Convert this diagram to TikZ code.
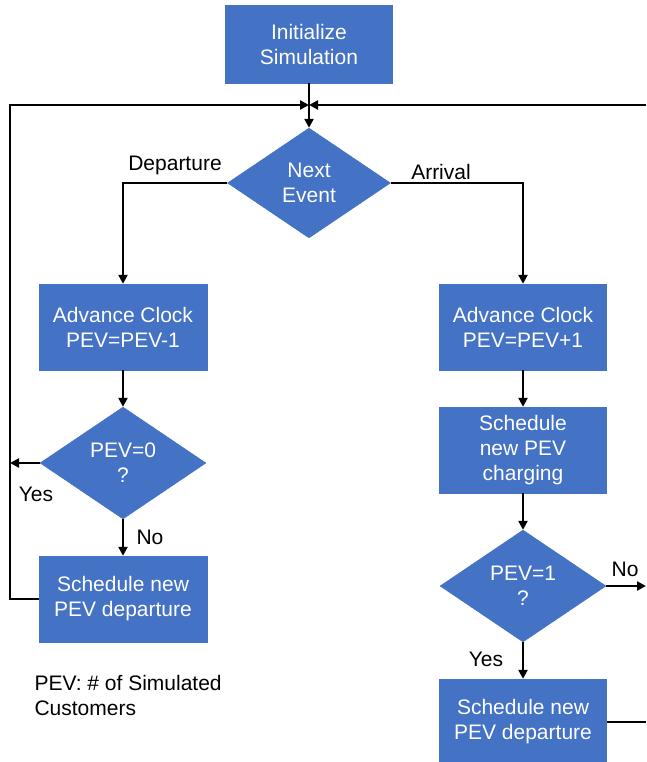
\documentclass[tikz,border=0pt]{standalone}
\usepackage{fontspec}
\setmainfont{Liberation Sans}
\usetikzlibrary{shapes.geometric,arrows.meta}
\definecolor{officeblue}{HTML}{4472C4}
\begin{document}
\begin{tikzpicture}[x=1pt,y=-1pt,
  every node/.style={font=\fontsize{21}{25}\selectfont},
  procbox/.style={rectangle,fill=officeblue,draw=officeblue,text=white,align=center,inner sep=0pt,minimum width=167pt,minimum height=86pt},
  decbox/.style={diamond,fill=officeblue,draw=officeblue,text=white,align=center,inner sep=0pt,minimum width=166pt,minimum height=112pt},
  conn/.style={line width=2.5pt,line join=miter},
  arr/.style={conn,-{Triangle[length=9pt,width=9pt]}},
  lbl/.style={text=black}]
\useasboundingbox (0,0) rectangle (646,762);
\node[procbox,minimum height=78pt] (init) at (309,44) {Initialize\\Simulation};
\node[decbox,minimum width=163pt,minimum height=110pt] (next) at (309,183) {Next\\Event};
\node[procbox,minimum width=168pt] (advL) at (123,327) {Advance Clock\\PEV=PEV-1};
\node[decbox] (dec0) at (123,463) {PEV=0\\?};
\node[procbox,minimum width=168pt] (schL) at (123,599) {Schedule new\\PEV departure};
\node[procbox] (advR) at (523,327) {Advance Clock\\PEV=PEV+1};
\node[procbox] (chg) at (523,450) {Schedule\\new PEV\\charging};
\node[decbox] (dec1) at (523,586) {PEV=1\\?};
\node[procbox] (schR) at (523,722) {Schedule new\\PEV departure};

\coordinate (J) at (309,105);
\coordinate (LL) at (10,105);
\coordinate (RR) at (646,105);
\coordinate (YL) at (10,463);
\coordinate (NR) at (646,586);
\coordinate (ER) at (646,722);

\draw[arr] (init.south) -- (next.north);
\draw[arr] (schL.west) -| (LL) -- (J);
\draw[arr] (RR) -- (J);
\draw[arr] (next.west) -| (advL.north);
\draw[arr] (next.east) -| (advR.north);
\draw[arr] (advL.south) -- (dec0.north);
\draw[arr] (dec0.west) -- (YL);
\draw[arr] (dec0.south) -- (schL.north);
\draw[arr] (advR.south) -- (chg.north);
\draw[arr] (chg.south) -- (dec1.north);
\draw[arr] (dec1.east) -- (NR);
\draw[arr] (dec1.south) -- (schR.north);
\draw[conn] (schR.east) -- (ER);

\node[lbl] (ldep) at (175,165) {Departure};
\node[lbl] (larr) at (441,172) {Arrival};
\node[lbl] (lyes0) at (36,494) {Yes};
\node[lbl] (lno0) at (150,537) {No};
\node[lbl] (lno1) at (625,569) {No};
\node[lbl] (lyes1) at (486,659) {Yes};
\node[lbl,anchor=west,align=left] (legend) at (31,695) {PEV: \# of Simulated\\Customers};
\end{tikzpicture}
\end{document}
